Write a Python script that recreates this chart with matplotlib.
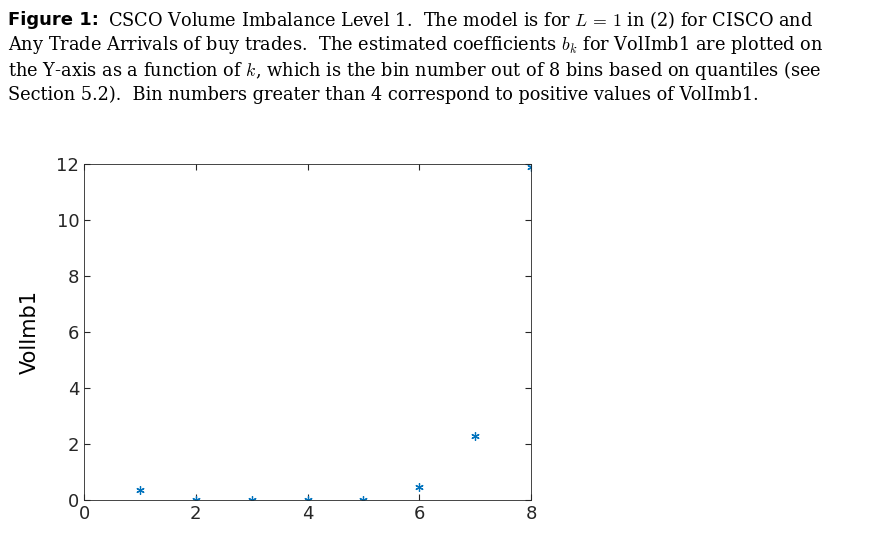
import matplotlib
matplotlib.use("Agg")
import matplotlib.pyplot as plt

bins = [1, 2, 3, 4, 5, 6, 7, 8]
volimb = [0.35, 0.0, 0.0, 0.0, 0.0, 0.45, 2.3, 11.9]
xticks = [0, 2, 4, 6, 8]
yticks = [0, 2, 4, 6, 8, 10, 12]

plt.rcParams["mathtext.fontset"] = "cm"
fig = plt.figure(figsize=(8.75, 5.37), dpi=100)
W, H = 875, 537
ax = fig.add_axes([84 / W, 1 - 500 / H, (531 - 84) / W, (500 - 164) / H])
ax.plot(bins, volimb, linestyle="none", marker=(6, 2, 0), color="#0072BD", markersize=6, markeredgewidth=0.9)
ax.set_xlim(0, 8)
ax.set_ylim(0, 12)
ax.set_xticks(xticks)
ax.set_yticks(yticks)
ax.tick_params(direction="in", top=True, right=True, labelsize=13, length=4, colors="#262626")
for s in ax.spines.values():
    s.set_color("#262626"); s.set_linewidth(0.6)
ax.set_xlabel("Bin Number", fontsize=14, labelpad=10)
ax.set_ylabel("VolImb1", fontsize=15, labelpad=12)

serif = "DejaVu Serif"
lines = [
    (r"CSCO Volume Imbalance Level 1.  The model is for $L\,=\,1$ in (2) for CISCO and", True),
    (r"Any Trade Arrivals of buy trades.  The estimated coefficients $b_k$ for VolImb1 are plotted on", False),
    (r"the Y-axis as a function of $k$, which is the bin number out of 8 bins based on quantiles (see", False),
    (r"Section 5.2).  Bin numbers greater than 4 correspond to positive values of VolImb1.", False),
]
ys = [20, 45, 70, 95]
for (t, first), y in zip(lines, ys):
    x = 8
    if first:
        fig.text(x / W, 1 - y / H, "Figure 1:", fontsize=13, fontweight="bold", family="DejaVu Sans", va="center")
        x = 108
    fig.text(x / W, 1 - y / H, t, fontsize=12.8, family=serif, va="center")

fig.savefig("out.png", dpi=100)
